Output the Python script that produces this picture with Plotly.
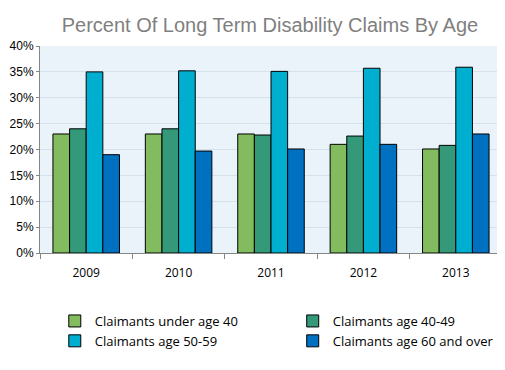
import plotly.graph_objects as go

years = ["2009", "2010", "2011", "2012", "2013"]
series_names = ["Claimants under age 40", "Claimants age 40-49",
                "Claimants age 50-59", "Claimants age 60 and over"]
under_40 = [23.0, 23.0, 23.0, 21.0, 20.1]
age_40_49 = [24.0, 24.0, 22.8, 22.6, 20.8]
age_50_59 = [35.0, 35.2, 35.1, 35.7, 35.9]
age_60_over = [19.0, 19.7, 20.1, 21.0, 23.0]
y_ticks = [0, 5, 10, 15, 20, 25, 30, 35, 40]
y_tick_labels = [f"{v}%" for v in y_ticks]

colors = ["#82BC5E", "#339979", "#00AFD0", "#0070C0"]
values = [under_40, age_40_49, age_50_59, age_60_over]
legend_ids = ["legend", "legend2", "legend", "legend2"]

fig = go.Figure()
for name, vals, c, lg in zip(series_names, values, colors, legend_ids):
    fig.add_trace(go.Bar(x=years, y=vals, name=name, marker_color=c,
                         marker_line=dict(color="black", width=1),
                         legend=lg, legendgroup=name))

legend_common = dict(orientation="v", yanchor="top", xanchor="left",
                     traceorder="normal", tracegroupgap=3,
                     font=dict(family="Open Sans", size=13, color="#000"),
                     itemclick=False, bgcolor="rgba(0,0,0,0)")

# page has an 8px body margin; compensate at top/left
fig.update_layout(
    width=497, height=362,
    margin=dict(l=32, r=3, t=38, b=117, autoexpand=False),
    paper_bgcolor="white",
    plot_bgcolor="#EBF3FA",
    barmode="group", bargap=0.28, bargroupgap=0,
    title=dict(text="Percent Of Long Term Disability Claims By Age",
               x=0.527, xref="container", xanchor="center",
               y=0.953, yref="container", yanchor="middle",
               font=dict(family="Liberation Sans", size=20, color="#7F7F7F")),
    font=dict(family="Liberation Sans", size=12, color="#222"),
    showlegend=True,
    legend=dict(x=0.032, y=-0.256, **legend_common),
    legend2=dict(x=0.547, y=-0.256, **legend_common),
)
fig.update_xaxes(showline=True, linecolor="#868686", linewidth=1,
                 ticks="outside", tickson="boundaries", ticklen=5, tickcolor="#868686",
                 ticklabelstandoff=9,
                 tickfont=dict(family="Open Sans", size=12, color="#000"),
                 showgrid=False)
fig.update_yaxes(range=[0, 40], tickvals=y_ticks, ticktext=y_tick_labels,
                 showline=True, linecolor="#868686", linewidth=1,
                 ticks="outside", ticklen=3, tickcolor="#868686",
                 gridcolor="#D3E2EC", gridwidth=1, zeroline=False,
                 tickfont=dict(family="Liberation Sans", size=12, color="#000"))

fig.write_html("out.html")
